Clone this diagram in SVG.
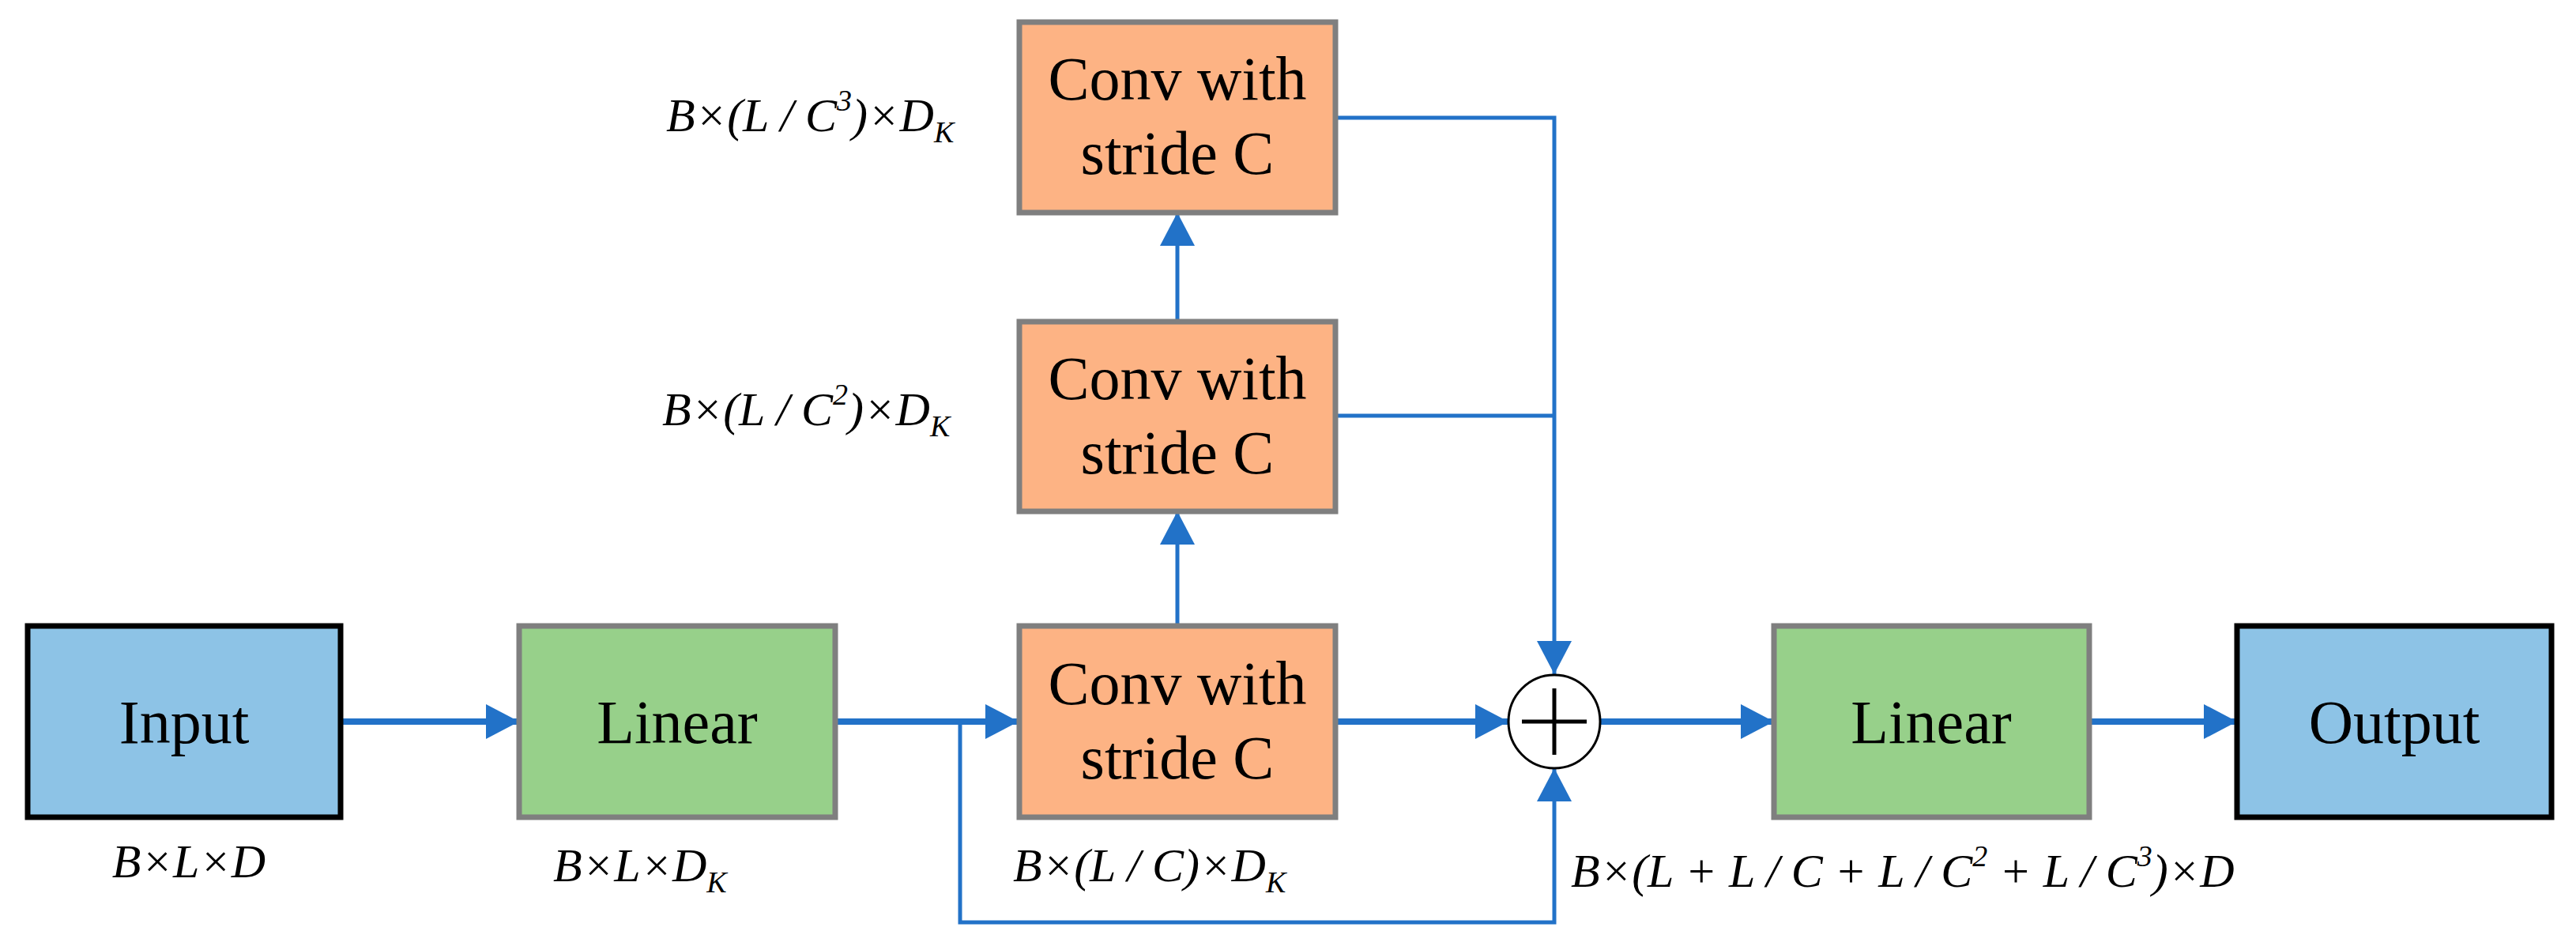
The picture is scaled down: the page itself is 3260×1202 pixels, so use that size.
<svg xmlns="http://www.w3.org/2000/svg" width="3260" height="1202" viewBox="0 0 3260 1202">
<style>
.box{stroke-width:7}
.g{stroke:#7f7f7f}.k{stroke:#000}
.blue{fill:#8DC3E6}.green{fill:#97D08A}.orange{fill:#FDB384}
.t{font-family:"Liberation Serif",serif;font-size:78px;fill:#000;text-anchor:middle}
.m{font-family:"Liberation Serif",serif;font-style:italic;font-size:60px;fill:#000}
.s{font-size:38px}
.c{fill:none;stroke:#2272C8;stroke-width:8}
.c2{fill:none;stroke:#2272C8;stroke-width:5}
</style>
<defs>
<marker id="a" markerUnits="userSpaceOnUse" markerWidth="44" markerHeight="44" refX="42" refY="22" orient="auto"><path d="M0,0 L42,22 L0,44 Z" fill="#2272C8"/></marker>
</defs>
<g id="connectors">
<path class="c" d="M430,913 H657" marker-end="url(#a)"/>
<path class="c" d="M1057,913 H1289" marker-end="url(#a)"/>
<path class="c2" d="M1215,913 V1167 H1967 V972" marker-end="url(#a)"/>
<path class="c2" d="M1490,792 V647" marker-end="url(#a)"/>
<path class="c2" d="M1490,407 V269" marker-end="url(#a)"/>
<path class="c2" d="M1690,149 H1967 V853" marker-end="url(#a)"/>
<path class="c2" d="M1690,526 H1967"/>
<path class="c" d="M1690,913 H1909" marker-end="url(#a)"/>
<path class="c" d="M2025,913 H2245" marker-end="url(#a)"/>
<path class="c" d="M2644,913 H2831" marker-end="url(#a)"/>
</g>
<g id="input"><rect class="box k blue" x="35" y="792" width="396" height="242"/><text class="t" x="233" y="940">Input</text></g>
<g id="linear1"><rect class="box g green" x="657" y="792" width="400" height="242"/><text class="t" x="857" y="940">Linear</text></g>
<g id="conv1"><rect class="box g orange" x="1290" y="792" width="400" height="242"/><text class="t" x="1490" y="891">Conv with</text><text class="t" x="1490" y="985">stride C</text></g>
<g id="conv2"><rect class="box g orange" x="1290" y="407" width="400" height="240"/><text class="t" x="1490" y="505">Conv with</text><text class="t" x="1490" y="599">stride C</text></g>
<g id="conv3"><rect class="box g orange" x="1290" y="28" width="400" height="241"/><text class="t" x="1490" y="126">Conv with</text><text class="t" x="1490" y="220">stride C</text></g>
<g id="sum"><ellipse cx="1967" cy="913" rx="58" ry="59" fill="#fff" stroke="#000" stroke-width="3"/><path d="M1926,913 H2008 M1967,871 V955" stroke="#000" stroke-width="5"/></g>
<g id="linear2"><rect class="box g green" x="2245" y="792" width="399" height="242"/><text class="t" x="2444" y="940">Linear</text></g>
<g id="output"><rect class="box k blue" x="2831" y="792" width="398" height="242"/><text class="t" x="3030" y="940">Output</text></g>
<g id="labels">
<text class="m" x="239" y="1110" text-anchor="middle">B×L×D</text>
<text class="m" x="700" y="1115">B×L×D<tspan class="s" dy="14">K</tspan></text>
<text class="m" x="1282" y="1115">B×(L / C)×D<tspan class="s" dy="14">K</tspan></text>
<text class="m" x="843" y="166">B×(L / C<tspan class="s" dy="-26">3</tspan><tspan dy="26">)×D</tspan><tspan class="s" dy="14">K</tspan></text>
<text class="m" x="838" y="538">B×(L / C<tspan class="s" dy="-26">2</tspan><tspan dy="26">)×D</tspan><tspan class="s" dy="14">K</tspan></text>
<text class="m" x="1988" y="1122">B×(L + L / C + L / C<tspan class="s" dy="-26">2</tspan><tspan dy="26"> + L / C</tspan><tspan class="s" dy="-26">3</tspan><tspan dy="26">)×D</tspan></text>
</g>
</svg>
